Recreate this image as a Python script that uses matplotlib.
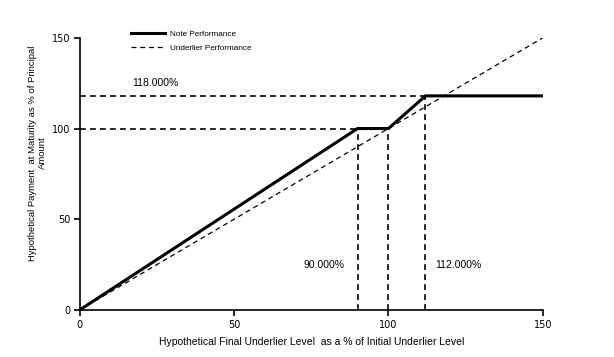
import matplotlib
matplotlib.use("Agg")
import matplotlib.pyplot as plt

plt.rcParams['font.family'] = ['Liberation Sans', 'DejaVu Sans']

note_x = [0, 90, 100, 112, 150]
note_y = [0, 100, 100, 118, 118]
under_x = [0, 150]
under_y = [0, 150]
ref_h = [(100, 90), (118, 112)]   # (level, x end)
ref_v = [(90, 100), (100, 100), (112, 118)]  # (x, y top)
xticks = [0, 50, 100, 150]
yticks = [0, 50, 100, 150]

fig = plt.figure(figsize=(6.14, 3.57), dpi=100)
ax = fig.add_axes([0.130, 0.132, 0.754, 0.762])

for lvl, xe in ref_h:
    ax.plot([0, xe], [lvl, lvl], color='black', lw=1.2, ls=(0, (3.5, 2.5)))
for xv, yt in ref_v:
    ax.plot([xv, xv], [0, yt], color='black', lw=1.2, ls=(0, (3.5, 2.5)))

l1, = ax.plot(note_x, note_y, color='black', lw=2.2, solid_joinstyle='miter', label='Note Performance')
l2, = ax.plot(under_x, under_y, color='black', lw=0.9, ls=(0, (4, 3)), label='Underlier Performance')

ax.set_xlim(0, 150)
ax.set_ylim(0, 150)
ax.set_xticks(xticks)
ax.set_yticks(yticks)
for s in ['top', 'right']:
    ax.spines[s].set_visible(False)
for s in ['left', 'bottom']:
    ax.spines[s].set_linewidth(1.2)
ax.tick_params(direction='out', length=4, width=1.2, labelsize=7, pad=3)
for lab in ax.get_xticklabels() + ax.get_yticklabels():
    lab.set_family('DejaVu Sans')

ax.set_xlabel('Hypothetical Final Underlier Level  as a % of Initial Underlier Level', fontsize=7.5, labelpad=5)
ax.set_ylabel('Hypothetical Payment  at Maturity as % of Principal\nAmount', fontsize=6.8, linespacing=1.15)
ax.yaxis.set_label_coords(-0.071, 0.577)

ax.text(24.5, 125, '118.000%', fontsize=7.5, ha='center', va='center')
ax.text(79, 24.5, '90.000%', fontsize=7.5, ha='center', va='center')
ax.text(122.8, 24.5, '112.000%', fontsize=7.5, ha='center', va='center')

fig.legend(handles=[l1, l2], loc='upper left', bbox_to_anchor=(0.208, 0.925),
           frameon=False, fontsize=5.9, handlelength=4.1, handletextpad=0.6,
           labelspacing=0.75, borderaxespad=0)

fig.savefig('out.png', dpi=100)
